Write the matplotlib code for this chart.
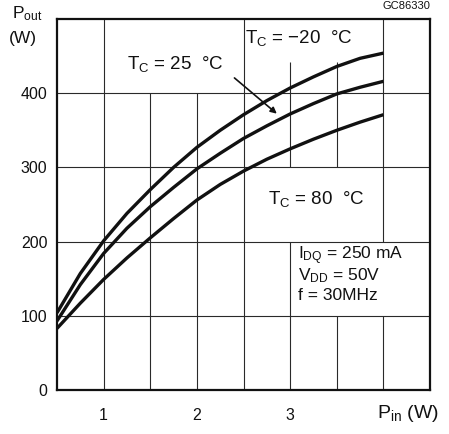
import matplotlib
matplotlib.use("Agg")
import matplotlib.pyplot as plt

plt.rcParams['font.family'] = ['Liberation Sans', 'DejaVu Sans']
plt.rcParams['mathtext.fontset'] = 'custom'
plt.rcParams['mathtext.rm'] = 'Liberation Sans'
plt.rcParams['mathtext.it'] = 'Liberation Sans'

# Data
pin = [0.5, 0.75, 1.0, 1.25, 1.5, 1.75, 2.0, 2.25, 2.5, 2.75, 3.0, 3.25, 3.5, 3.75, 4.0]
pout_m20 = [104, 157, 201, 238, 270, 300, 327, 350, 371, 390, 407, 422, 436, 447, 454]
pout_25 = [93, 142, 184, 218, 247, 273, 298, 319, 339, 356, 372, 386, 399, 408, 416]
pout_80 = [83, 117, 149, 178, 205, 231, 256, 277, 295, 311, 325, 338, 350, 361, 371]
series = [pout_m20, pout_25, pout_80]

x_ticks = [1, 2, 3]
y_ticks = [0, 100, 200, 300, 400]

ink = '#111111'
fig = plt.figure(figsize=(4.49, 4.34), dpi=100)
ax = fig.add_axes([57/449, (434-390)/434, (430-57)/449, (390-19)/434])
ax.set_xlim(0.5, 4.5)
ax.set_ylim(0, 500)

# grid (datasheet style, with gaps around labels)
gc = '#2a2a2a'
glw = 0.8
for yv in [100, 200, 300, 400]:
    ax.axhline(yv, color=gc, lw=glw, zorder=1)
vsegs = [(1.0, 0, 500), (1.5, 0, 400), (2.0, 0, 400), (2.5, 0, 500),
         (3.0, 0, 200), (3.0, 300, 442), (3.5, 0, 100), (3.5, 300, 442),
         (4.0, 0, 100), (4.0, 200, 500)]
for xv, y0, y1 in vsegs:
    ax.vlines(xv, y0, y1, color=gc, lw=glw, zorder=1)

for s in series:
    ax.plot(pin, s, color=ink, lw=2.4, solid_capstyle='butt',
            solid_joinstyle='round', zorder=3)

for sp in ax.spines.values():
    sp.set_linewidth(1.6)
    sp.set_color(ink)

ax.set_xticks(x_ticks)
ax.set_yticks(y_ticks)
ax.tick_params(length=0, labelsize=11.5, pad=7, colors=ink)
ax.tick_params(axis='x', pad=13)

fs = 13.5
ax.text(2.52, 474, r'$\mathrm{T_C}$ = $-$20  °C', fontsize=fs, va='center', ha='left', color=ink)
ax.text(1.25, 440, r'$\mathrm{T_C}$ = 25  °C', fontsize=fs, va='center', ha='left', color=ink)
ax.text(2.76, 257, r'$\mathrm{T_C}$ = 80  °C', fontsize=fs, va='center', ha='left', color=ink)
ax.annotate('', xy=(2.88, 370), xytext=(2.38, 423),
            arrowprops=dict(arrowstyle='-|>', color=ink, lw=1.2, mutation_scale=9))

fa = 12.5
ax.text(3.08, 181, r'$\mathrm{I_{DQ}}$ = 250 mA', fontsize=fa, va='center', ha='left', color=ink)
ax.text(3.08, 154, r'$\mathrm{V_{DD}}$ = 50V', fontsize=fa, va='center', ha='left', color=ink)
ax.text(3.08, 127, 'f = 30MHz', fontsize=fa, va='center', ha='left', color=ink)

fig.text(12/449, 1-14/434, r'$\mathrm{P_{out}}$', fontsize=12.5, va='center', ha='left', color=ink)
fig.text(9/449, 1-38/434, '(W)', fontsize=12.5, va='center', ha='left', color=ink)
fig.text(377/449, 1-413/434, r'$\mathrm{P_{in}}$ (W)', fontsize=14, va='center', ha='left', color=ink)
fig.text(430/449, 1-6/434, 'GC86330', fontsize=8, va='center', ha='right', color=ink)

fig.savefig('out.png', dpi=100, facecolor='white')
